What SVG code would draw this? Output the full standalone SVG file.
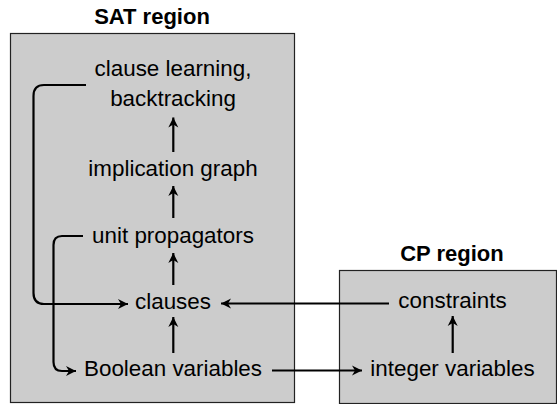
<svg xmlns="http://www.w3.org/2000/svg" width="557" height="404" viewBox="0 0 557 404">
<defs>
<marker id="ah" markerWidth="12" markerHeight="12" viewBox="-11 -6 12 12" refX="0" refY="0" orient="auto" markerUnits="userSpaceOnUse">
<path d="M0,0 L-10,-5 L-7,0 L-10,5 Z" fill="#000"/>
</marker>
</defs>
<style>
.region{fill:#cccccc;stroke:#222;stroke-width:1.2}
.title{font-family:"Liberation Sans",Arial,sans-serif;font-size:22px;font-weight:bold;text-anchor:middle;fill:#000}
.lbl{font-family:"Liberation Sans",Arial,sans-serif;font-size:22.4px;text-anchor:middle;fill:#000}
.c{fill:none;stroke:#000;stroke-width:2.2}
.a{marker-end:url(#ah)}
</style>
<g id="sat-region">
<rect class="region" x="10.5" y="33.5" width="284" height="369"/>
<text class="title" x="152" y="24">SAT region</text>
</g>
<g id="cp-region">
<rect class="region" x="339.5" y="270.5" width="217" height="133"/>
<text class="title" x="452" y="261">CP region</text>
</g>
<g id="n-clause-learning"><text class="lbl" x="173" y="76">clause learning,</text><text class="lbl" x="173" y="106">backtracking</text></g>
<g id="n-implication-graph"><text class="lbl" x="173" y="176">implication graph</text></g>
<g id="n-unit-propagators"><text class="lbl" x="173" y="243">unit propagators</text></g>
<g id="n-clauses"><text class="lbl" x="173" y="309">clauses</text></g>
<g id="n-boolean-variables"><text class="lbl" x="173" y="376">Boolean variables</text></g>
<g id="n-constraints"><text class="lbl" x="452.5" y="308">constraints</text></g>
<g id="n-integer-variables"><text class="lbl" x="452.5" y="376">integer variables</text></g>
<g id="connectors">
<path class="c a" d="M173.3,152 V117.5"/>
<path class="c a" d="M173.3,218 V186"/>
<path class="c a" d="M173.3,285 V253"/>
<path class="c a" d="M173.3,353 V317"/>
<path class="c a" d="M452.7,353 V316"/>
<path class="c a" d="M86,85 H44 Q33.5,85 33.5,96 V293 Q33.5,304 44,304 H128"/>
<path class="c a" d="M83,236 H62 Q53.5,236 53.5,245 V362 Q53.5,371 62,371 H76"/>
<path class="c a" d="M389,303.5 H221"/>
<path class="c a" d="M272,370.5 H362"/>
</g>
</svg>
